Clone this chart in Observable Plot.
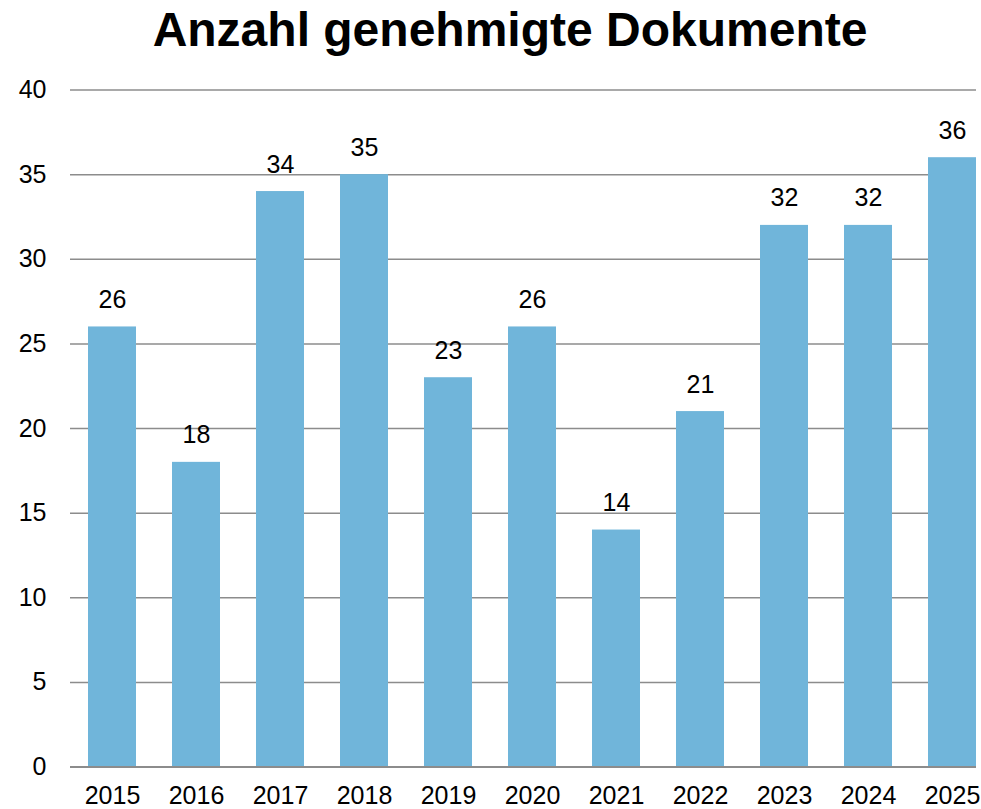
<!DOCTYPE html>
<html>
<head>
<meta charset="utf-8">
<script src="https://cdn.jsdelivr.net/npm/d3@7"></script>
<script src="https://cdn.jsdelivr.net/npm/@observablehq/plot@0.6"></script>
<style>
  html, body { margin: 0; padding: 0; background: #fff; }
  body { width: 981px; height: 809px; overflow: hidden; font-family: "Liberation Sans", Arial, sans-serif; }
  #title { position: relative; height: 60px; line-height: 60px; font-size: 48px; font-weight: bold; color: #000; white-space: nowrap; }
  #title span { position: absolute; left: 510px; transform: translateX(-50%); }
  #chart svg { display: block; }
</style>
</head>
<body>
<div id="title"><span>Anzahl genehmigte Dokumente</span></div>
<div id="chart"></div>
<script>
const years = ["2015","2016","2017","2018","2019","2020","2021","2022","2023","2024","2025"];
const values = [26, 18, 34, 35, 23, 26, 14, 21, 32, 32, 36];
const yTicks = [0, 5, 10, 15, 20, 25, 30, 35, 40];
const title = "Anzahl genehmigte Dokumente";

const data = years.map((y, i) => ({year: y, value: values[i]}));

const chart = Plot.plot({
  width: 981,
  height: 749,
  marginLeft: 70,
  marginRight: 5,
  marginTop: 29.5,
  marginBottom: 42.5,
  style: {fontFamily: '"Liberation Sans", Arial, sans-serif', fontSize: "25px", color: "#000", background: "#fff", overflow: "visible"},
  x: {domain: years, range: [88, 976], paddingInner: 0.4286, paddingOuter: 0, label: null, tickSize: 0, tickPadding: 19.5},
  y: {domain: [0, 40], ticks: yTicks, label: null, tickSize: 0, tickPadding: 24},
  marks: [
    Plot.ruleY(yTicks, {stroke: "#8c8c8c", strokeWidth: 1.5}),
    Plot.barY(data, {x: "year", y: "value", fill: "#70b5da"}),
    Plot.ruleY([0], {stroke: "#8c8c8c", strokeWidth: 2}),
    Plot.text(data, {x: "year", y: "value", text: d => String(d.value), dy: -27, fill: "#000", fontSize: 25})
  ]
});
document.getElementById("chart").appendChild(chart);
</script>
</body>
</html>
